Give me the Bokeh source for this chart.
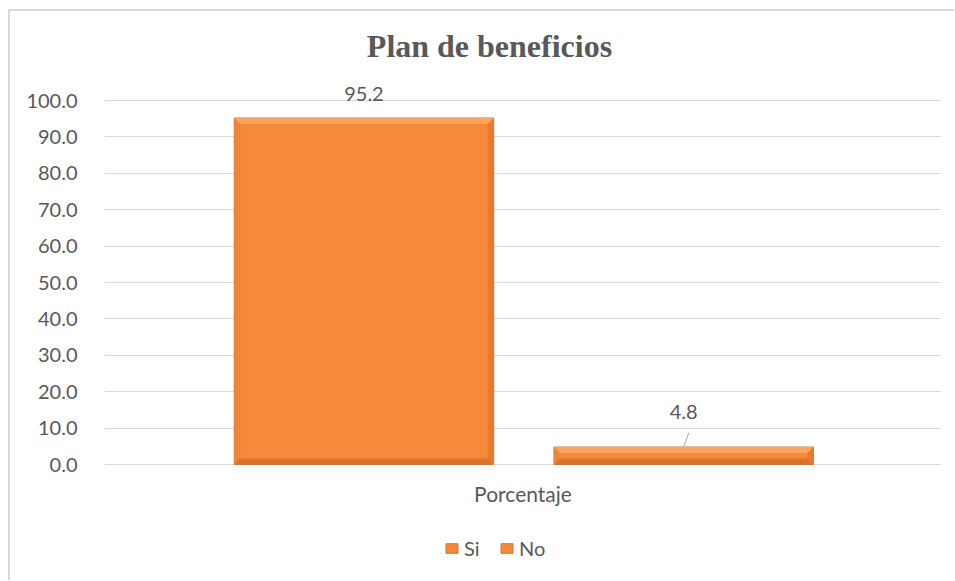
from bokeh.plotting import figure
from bokeh.models import (Range1d, FixedTicker, Label, LabelSet, ColumnDataSource,
                          Legend, LegendItem, NumeralTickFormatter)
from bokeh.core.properties import value
from bokeh.embed import file_html
from bokeh.resources import INLINE

# ---- data ----
title_text = "Plan de beneficios"
category = ["Porcentaje"]
series = ["Si", "No"]
values = [95.2, 4.8]
value_labels = ["95.2", "4.8"]
y_ticks = [0, 10, 20, 30, 40, 50, 60, 70, 80, 90, 100]

# ---- style ----
FONT = "Lato"
TXT = "#595959"
ORANGE = "#F7893A"
offsets = [-0.19, 0.192]
bar_w = 0.31
label_offsets = [17, 28]

W, H = 946, 571
ML, MR, MT, MB = 94, 15, 10, 0
fw = W - ML - MR
fh = H - MT - MB
PPU = 3.64                       # pixels per y unit
above_px = 79                    # pixels above the 100 gridline
below_px = 118                   # pixels below the 0 gridline
y_end = 100 + above_px / PPU
y_start = -below_px / PPU

p = figure(width=W, height=H, output_backend="svg", toolbar_location=None,
           x_range=Range1d(0, 1), y_range=Range1d(y_start, y_end),
           min_border_left=ML, min_border_right=MR, min_border_top=MT,
           min_border_bottom=MB)
p.styles = {"border-left": "2px solid #D9D9D9", "border-top": "2px solid #D9D9D9",
            "margin-left": "8px", "margin-top": "9px"}
p.outline_line_color = None
p.background_fill_color = "white"
p.border_fill_color = "white"

# axes
p.yaxis.ticker = FixedTicker(ticks=y_ticks)
p.yaxis.formatter = NumeralTickFormatter(format="0.0")
p.yaxis.axis_line_color = None
p.yaxis.major_tick_line_color = None
p.yaxis.minor_tick_line_color = None
p.yaxis.major_label_standoff = 21
p.yaxis.major_label_text_font = FONT
p.yaxis.major_label_text_font_size = "20px"
p.yaxis.major_label_text_color = TXT
p.xaxis.visible = False

p.xgrid.grid_line_color = None
p.ygrid.grid_line_color = "#D9D9D9"
p.ygrid.grid_line_width = 1

# bars
xs = [0.5 + o for o in offsets]
src = ColumnDataSource(dict(x=xs, top=values, name=series, lab=value_labels,
                            yoff=label_offsets))
bars = p.vbar(x="x", top="top", width=bar_w, source=src, fill_color=ORANGE,
              line_color="#C07A48", line_width=1)

# bevel effect
bev = 6
dx = bev / fw
dy = bev / PPU
top_xs, top_ys, bot_xs, bot_ys, l_xs, l_ys, r_xs, r_ys = [], [], [], [], [], [], [], []
for x, v in zip(xs, values):
    x0, x1 = x - bar_w / 2, x + bar_w / 2
    d = min(dy, v / 2)
    top_xs.append([x0, x1, x1 - dx, x0 + dx]); top_ys.append([v, v, v - d, v - d])
    bot_xs.append([x0, x1, x1 - dx, x0 + dx]); bot_ys.append([0, 0, d, d])
    l_xs.append([x0, x0, x0 + dx, x0 + dx]); l_ys.append([0, v, v - d, d])
    r_xs.append([x1, x1, x1 - dx, x1 - dx]); r_ys.append([0, v, v - d, d])
p.patches(l_xs, l_ys, fill_color="#F08538", line_color=None)
p.patches(r_xs, r_ys, fill_color="#E57B30", line_color=None)
p.patches(top_xs, top_ys, fill_color="#FBA560", line_color=None)
p.patches(bot_xs, bot_ys, fill_color="#DC7129", line_color=None)

# data labels
p.add_layout(LabelSet(x="x", y="top", text="lab", source=src, y_offset="yoff",
                      text_align="center", text_baseline="alphabetic",
                      text_font=value(FONT), text_font_size=value("20px"),
                      text_color=TXT))
# leader line for small bar
p.segment(x0=[xs[1]], y0=[values[1]], x1=[xs[1] + 5 / fw],
          y1=[values[1] + 14 / PPU], line_color="#A6A6A6", line_width=1)

# category label (x axis)
p.add_layout(Label(x=0.5, y=0, y_offset=-29, text=category[0],
                   text_align="center", text_baseline="alphabetic",
                   text_font=FONT, text_font_size="21px", text_color=TXT))

# title
p.add_layout(Label(x=(489 - 104) / fw, y=100, y_offset=55, text=title_text,
                   text_align="center", text_baseline="alphabetic",
                   text_font="Liberation Serif", text_font_style="bold",
                   text_font_size="32px", text_color=TXT))

# legend
legend = Legend(items=[LegendItem(label=series[0], renderers=[bars], index=0),
                       LegendItem(label=series[1], renderers=[bars], index=1)],
                orientation="horizontal", location=(340, 22),
                label_text_font=FONT, label_text_font_size="20px",
                label_text_color=TXT, glyph_width=15, glyph_height=12,
                label_standoff=5, spacing=15, padding=4, margin=0,
                border_line_color=None, background_fill_alpha=0)
p.add_layout(legend, "center")

open("out.html", "w").write(file_html(p, INLINE))
